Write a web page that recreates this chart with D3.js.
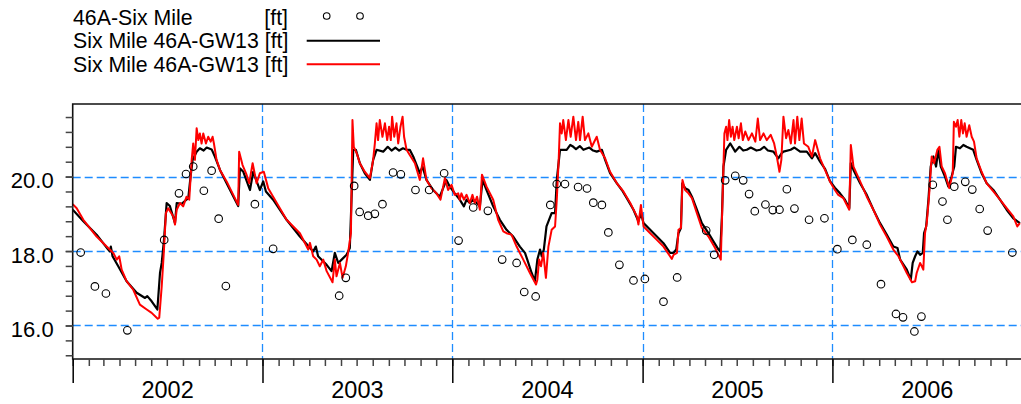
<!DOCTYPE html>
<html>
<head>
<meta charset="utf-8">
<script src="https://cdn.jsdelivr.net/npm/d3@7"></script>
<style>
  html, body { margin: 0; padding: 0; background: #fff; }
  svg { display: block; font-family: "Liberation Sans", Arial, Helvetica, sans-serif; }
</style>
</head>
<body>
<svg id="chart" width="1021" height="404"></svg>
<script>
// Water levels at 46A-Six Mile, 2002-2006 (time as decimal year, level in ft)

// Observed levels, 46A-Six Mile [ft]
const observed = [
  [2002.042, 17.96], [2002.117, 17.05], [2002.175, 16.86], [2002.288, 15.87],
  [2002.482, 18.30], [2002.560, 19.55], [2002.597, 20.07], [2002.635, 20.27],
  [2002.691, 19.62], [2002.732, 20.16], [2002.769, 18.87], [2002.807, 17.06],
  [2002.960, 19.26], [2003.056, 18.06], [2003.404, 16.80], [2003.439, 17.28],
  [2003.483, 19.75], [2003.512, 19.05], [2003.557, 18.95], [2003.592, 19.00],
  [2003.632, 19.26], [2003.688, 20.11], [2003.729, 20.06], [2003.806, 19.64],
  [2003.878, 19.64], [2003.957, 20.09], [2004.033, 18.28], [2004.110, 19.17],
  [2004.187, 19.08], [2004.262, 17.77], [2004.338, 17.68], [2004.378, 16.90],
  [2004.438, 16.78], [2004.515, 19.24], [2004.549, 19.80], [2004.592, 19.80],
  [2004.661, 19.72], [2004.708, 19.68], [2004.741, 19.30], [2004.786, 19.24],
  [2004.820, 18.50], [2004.878, 17.63], [2004.952, 17.21], [2005.012, 17.25],
  [2005.110, 16.64], [2005.182, 17.29], [2005.335, 18.55], [2005.377, 17.90],
  [2005.435, 19.90], [2005.488, 20.02], [2005.530, 19.90], [2005.561, 19.53],
  [2005.591, 19.07], [2005.647, 19.25], [2005.686, 19.10], [2005.721, 19.11],
  [2005.760, 19.66], [2005.800, 19.14], [2005.877, 18.84], [2005.958, 18.88],
  [2006.026, 18.05], [2006.105, 18.30], [2006.181, 18.17], [2006.256, 17.11],
  [2006.335, 16.31], [2006.372, 16.22], [2006.432, 15.84], [2006.469, 16.24],
  [2006.529, 19.78], [2006.580, 19.33], [2006.606, 18.84], [2006.642, 19.73],
  [2006.700, 19.86], [2006.737, 19.65], [2006.776, 19.13], [2006.818, 18.55],
  [2006.948, 17.96]
];

// Six Mile 46A-GW13 [ft], black trace
const gw13Black = [
  [2002.000, 19.11], [2002.056, 18.80], [2002.126, 18.44], [2002.187, 18.04],
  [2002.196, 17.99], [2002.201, 18.12], [2002.210, 17.86], [2002.240, 17.59],
  [2002.284, 17.19], [2002.337, 16.88], [2002.381, 16.74], [2002.393, 16.79],
  [2002.416, 16.65], [2002.446, 16.43], [2002.460, 17.41], [2002.469, 17.68],
  [2002.481, 18.30], [2002.495, 19.29], [2002.512, 19.21], [2002.539, 18.75],
  [2002.548, 19.29], [2002.574, 19.27], [2002.609, 19.42], [2002.621, 20.00],
  [2002.632, 20.45], [2002.653, 20.67], [2002.670, 20.76], [2002.690, 20.70],
  [2002.706, 20.78], [2002.732, 20.73], [2002.749, 20.54], [2002.776, 20.18],
  [2002.811, 19.82], [2002.872, 19.21], [2002.881, 20.22], [2002.899, 20.13],
  [2002.934, 19.64], [2002.951, 20.13], [2002.986, 19.64], [2003.004, 19.87],
  [2003.018, 19.60], [2003.056, 19.38], [2003.127, 18.84], [2003.197, 18.39],
  [2003.267, 17.99], [2003.281, 18.12], [2003.293, 17.86], [2003.338, 17.63],
  [2003.364, 17.46], [2003.381, 17.95], [2003.399, 17.68], [2003.417, 17.77],
  [2003.443, 17.90], [2003.460, 18.08], [2003.469, 19.38], [2003.478, 20.72],
  [2003.492, 20.72], [2003.513, 20.36], [2003.539, 20.09], [2003.566, 19.91],
  [2003.583, 20.45], [2003.601, 20.72], [2003.636, 20.67], [2003.660, 20.80],
  [2003.680, 20.70], [2003.700, 20.78], [2003.720, 20.70], [2003.740, 20.76],
  [2003.759, 20.72], [2003.776, 20.72], [2003.794, 20.54], [2003.829, 20.09],
  [2003.843, 20.27], [2003.864, 19.91], [2003.899, 19.64], [2003.934, 19.46],
  [2003.955, 19.73], [2003.969, 19.91], [2003.987, 19.73], [2004.013, 19.55],
  [2004.039, 19.38], [2004.061, 19.20], [2004.075, 19.38], [2004.092, 19.29],
  [2004.110, 19.38], [2004.128, 19.29], [2004.145, 19.20], [2004.159, 19.91],
  [2004.180, 19.64], [2004.215, 19.20], [2004.250, 18.84], [2004.285, 18.57],
  [2004.320, 18.39], [2004.355, 18.12], [2004.382, 17.95], [2004.394, 17.77],
  [2004.417, 17.41], [2004.434, 17.19], [2004.447, 17.77], [2004.461, 18.04],
  [2004.470, 17.86], [2004.481, 18.04], [2004.495, 18.66], [2004.522, 19.02],
  [2004.540, 19.02], [2004.549, 19.91], [2004.566, 20.72], [2004.601, 20.72],
  [2004.620, 20.85], [2004.636, 20.80], [2004.650, 20.74], [2004.670, 20.82],
  [2004.689, 20.72], [2004.720, 20.78], [2004.740, 20.70], [2004.759, 20.67],
  [2004.786, 20.72], [2004.803, 20.45], [2004.829, 20.09], [2004.865, 19.82],
  [2004.891, 19.64], [2004.917, 19.42], [2004.952, 19.11], [2004.978, 18.80],
  [2004.991, 19.02], [2005.005, 18.75], [2005.040, 18.57], [2005.075, 18.39],
  [2005.110, 18.21], [2005.145, 17.95], [2005.163, 17.95], [2005.177, 18.04],
  [2005.189, 18.48], [2005.202, 18.62], [2005.209, 19.82], [2005.224, 19.69],
  [2005.242, 19.64], [2005.260, 19.46], [2005.286, 19.11], [2005.312, 18.75],
  [2005.347, 18.48], [2005.373, 18.26], [2005.400, 18.04], [2005.409, 17.99],
  [2005.418, 18.93], [2005.426, 20.27], [2005.440, 20.72], [2005.462, 20.89],
  [2005.488, 20.67], [2005.510, 20.80], [2005.530, 20.70], [2005.549, 20.72],
  [2005.570, 20.78], [2005.600, 20.70], [2005.619, 20.72], [2005.640, 20.80],
  [2005.660, 20.70], [2005.689, 20.67], [2005.715, 20.49], [2005.733, 20.63],
  [2005.742, 20.67], [2005.780, 20.72], [2005.800, 20.78], [2005.830, 20.67],
  [2005.865, 20.67], [2005.892, 20.49], [2005.909, 20.63], [2005.935, 20.40],
  [2005.962, 20.20], [2005.987, 19.88], [2006.013, 19.70], [2006.040, 19.55],
  [2006.066, 19.38], [2006.089, 19.15], [2006.097, 20.36], [2006.111, 20.18],
  [2006.146, 19.82], [2006.181, 19.51], [2006.216, 19.11], [2006.251, 18.75],
  [2006.286, 18.44], [2006.321, 18.12], [2006.343, 18.08], [2006.357, 17.77],
  [2006.392, 17.50], [2006.413, 17.23], [2006.423, 17.68], [2006.436, 17.86],
  [2006.448, 17.99], [2006.462, 17.90], [2006.476, 17.95], [2006.483, 18.48],
  [2006.494, 18.66], [2006.506, 19.38], [2006.518, 20.27], [2006.532, 20.54],
  [2006.546, 20.27], [2006.558, 20.72], [2006.571, 20.27], [2006.593, 20.00],
  [2006.611, 19.73], [2006.628, 20.00], [2006.642, 20.27], [2006.651, 20.80],
  [2006.672, 20.76], [2006.690, 20.85], [2006.707, 20.80], [2006.742, 20.72],
  [2006.760, 20.45], [2006.786, 20.09], [2006.813, 19.82], [2006.848, 19.64],
  [2006.883, 19.38], [2006.918, 19.11], [2006.953, 18.88], [2006.988, 18.75]
];

// Six Mile 46A-GW13 [ft], red trace
const gw13Red = [
  [2002.000, 19.26], [2002.021, 19.15], [2002.056, 18.84], [2002.126, 18.39],
  [2002.179, 18.12], [2002.214, 17.95], [2002.232, 17.77], [2002.245, 17.86],
  [2002.258, 17.50], [2002.284, 17.19], [2002.319, 16.96], [2002.354, 16.56],
  [2002.390, 16.43], [2002.416, 16.34], [2002.448, 16.18], [2002.456, 16.21],
  [2002.469, 17.05], [2002.481, 18.04], [2002.491, 19.02], [2002.503, 19.15],
  [2002.530, 18.93], [2002.539, 18.71], [2002.548, 19.11], [2002.565, 19.29],
  [2002.582, 19.20], [2002.600, 19.46], [2002.614, 19.38], [2002.627, 20.45],
  [2002.635, 20.89], [2002.644, 20.45], [2002.653, 21.30], [2002.662, 20.98],
  [2002.670, 21.16], [2002.679, 20.89], [2002.688, 21.16], [2002.702, 20.89],
  [2002.714, 21.07], [2002.727, 20.94], [2002.737, 21.07], [2002.744, 20.89],
  [2002.758, 20.45], [2002.776, 20.18], [2002.811, 19.87], [2002.872, 19.24],
  [2002.877, 20.67], [2002.895, 20.31], [2002.916, 20.05], [2002.930, 19.82],
  [2002.948, 20.36], [2002.969, 19.82], [2002.986, 20.09], [2003.007, 20.13],
  [2003.030, 19.69], [2003.056, 19.46], [2003.127, 18.84], [2003.197, 18.48],
  [2003.241, 18.04], [2003.250, 18.22], [2003.267, 17.86], [2003.285, 17.77],
  [2003.302, 17.59], [2003.320, 17.77], [2003.338, 17.46], [2003.369, 17.16],
  [2003.381, 17.77], [2003.390, 17.32], [2003.408, 17.68], [2003.422, 17.28],
  [2003.439, 17.59], [2003.451, 17.95], [2003.466, 18.48], [2003.474, 21.52],
  [2003.481, 20.80], [2003.496, 20.63], [2003.513, 20.36], [2003.539, 20.13],
  [2003.566, 19.96], [2003.583, 20.45], [2003.592, 20.89], [2003.601, 21.43],
  [2003.609, 20.98], [2003.618, 21.52], [2003.632, 21.07], [2003.645, 21.43],
  [2003.657, 20.98], [2003.667, 21.34], [2003.676, 20.98], [2003.683, 21.61],
  [2003.694, 21.07], [2003.706, 21.43], [2003.715, 20.89], [2003.727, 21.34],
  [2003.738, 21.61], [2003.746, 21.07], [2003.759, 20.72], [2003.776, 20.58],
  [2003.803, 20.36], [2003.829, 19.91], [2003.846, 20.49], [2003.864, 19.91],
  [2003.890, 19.69], [2003.917, 19.55], [2003.938, 19.38], [2003.961, 19.96],
  [2003.978, 19.64], [2003.996, 19.78], [2004.013, 19.51], [2004.031, 19.55],
  [2004.039, 19.38], [2004.048, 19.55], [2004.061, 19.38], [2004.075, 19.51],
  [2004.092, 19.29], [2004.106, 19.51], [2004.118, 19.29], [2004.130, 19.46],
  [2004.145, 19.11], [2004.156, 20.05], [2004.180, 19.73], [2004.215, 19.38],
  [2004.241, 18.84], [2004.268, 18.53], [2004.285, 18.48], [2004.311, 18.44],
  [2004.338, 18.12], [2004.373, 17.77], [2004.408, 17.41], [2004.440, 17.10],
  [2004.447, 17.23], [2004.456, 17.77], [2004.466, 17.59], [2004.478, 17.95],
  [2004.492, 17.28], [2004.505, 18.12], [2004.522, 18.57], [2004.540, 18.66],
  [2004.549, 19.38], [2004.559, 20.45], [2004.566, 21.43], [2004.575, 21.16],
  [2004.583, 21.52], [2004.597, 20.98], [2004.610, 21.52], [2004.622, 21.07],
  [2004.636, 21.61], [2004.650, 20.98], [2004.662, 21.47], [2004.671, 20.98],
  [2004.685, 21.61], [2004.697, 20.98], [2004.715, 21.16], [2004.733, 20.80],
  [2004.759, 21.07], [2004.776, 20.72], [2004.803, 20.49], [2004.829, 20.13],
  [2004.865, 19.82], [2004.899, 19.60], [2004.935, 19.29], [2004.970, 18.93],
  [2004.978, 18.71], [2004.991, 19.24], [2005.005, 18.66], [2005.040, 18.48],
  [2005.075, 18.30], [2005.110, 18.12], [2005.154, 17.79], [2005.163, 17.90],
  [2005.181, 17.95], [2005.189, 18.57], [2005.202, 18.62], [2005.210, 19.91],
  [2005.224, 19.64], [2005.242, 19.55], [2005.260, 19.42], [2005.286, 19.02],
  [2005.312, 18.62], [2005.347, 18.39], [2005.382, 18.08], [2005.412, 17.77],
  [2005.421, 19.38], [2005.431, 21.16], [2005.440, 21.34], [2005.447, 20.98],
  [2005.456, 21.52], [2005.465, 21.07], [2005.474, 21.34], [2005.483, 20.98],
  [2005.497, 21.34], [2005.506, 21.03], [2005.518, 21.43], [2005.528, 20.98],
  [2005.541, 21.21], [2005.558, 20.98], [2005.576, 21.16], [2005.594, 20.94],
  [2005.607, 21.56], [2005.619, 20.98], [2005.637, 21.16], [2005.654, 20.98],
  [2005.675, 21.12], [2005.693, 20.89], [2005.707, 20.54], [2005.721, 20.13],
  [2005.731, 20.45], [2005.742, 21.61], [2005.756, 21.03], [2005.768, 21.25],
  [2005.781, 20.89], [2005.795, 21.52], [2005.803, 20.89], [2005.815, 21.61],
  [2005.826, 20.98], [2005.838, 21.56], [2005.850, 20.89], [2005.873, 20.80],
  [2005.892, 20.54], [2005.909, 20.98], [2005.935, 20.49], [2005.961, 20.18],
  [2005.987, 19.87], [2006.013, 19.64], [2006.031, 19.51], [2006.058, 19.42],
  [2006.089, 19.11], [2006.097, 20.85], [2006.111, 20.27], [2006.146, 19.87],
  [2006.181, 19.46], [2006.216, 19.11], [2006.251, 18.71], [2006.286, 18.39],
  [2006.321, 18.04], [2006.348, 17.86], [2006.366, 17.68], [2006.392, 17.41],
  [2006.419, 17.16], [2006.436, 17.19], [2006.444, 17.41], [2006.462, 17.68],
  [2006.471, 17.59], [2006.479, 17.50], [2006.488, 18.48], [2006.497, 18.75],
  [2006.509, 19.46], [2006.523, 20.54], [2006.536, 20.36], [2006.553, 20.72],
  [2006.564, 20.80], [2006.576, 20.27], [2006.593, 20.09], [2006.616, 19.69],
  [2006.634, 20.09], [2006.640, 21.47], [2006.651, 21.34], [2006.660, 21.52],
  [2006.669, 21.07], [2006.679, 21.52], [2006.688, 21.16], [2006.697, 21.43],
  [2006.707, 21.07], [2006.721, 21.38], [2006.734, 21.07], [2006.746, 20.94],
  [2006.760, 20.49], [2006.786, 20.13], [2006.813, 19.82], [2006.848, 19.60],
  [2006.883, 19.38], [2006.918, 19.15], [2006.953, 18.93], [2006.974, 18.66],
  [2006.988, 18.75]
];

// Axis labelling
const years = [2002, 2003, 2004, 2005, 2006];
const yLabelTicks = [16, 18, 20];
const yMinorTicks = [15.2, 15.6, 16.0, 16.4, 16.8, 17.2, 17.6, 18.0, 18.4, 18.8,
                     19.2, 19.6, 20.0, 20.4, 20.8, 21.2, 21.6];
const legendLabels = ["46A-Six Mile", "Six Mile 46A-GW13 [ft]", "Six Mile 46A-GW13 [ft]"];

// decimal year -> Date (UTC)
function toDate(t) {
  const y = Math.floor(t);
  const a = Date.UTC(y, 0, 1), b = Date.UTC(y + 1, 0, 1);
  return new Date(a + (t - y) * (b - a));
}

const svg = d3.select("#chart");
const plot = { left: 72.7, right: 1022.2, top: 104, bottom: 359 };

const x = d3.scaleUtc()
  .domain([new Date(Date.UTC(2002, 0, 1)), new Date(Date.UTC(2007, 0, 1))])
  .range([plot.left, plot.right]);
const y = d3.scaleLinear().domain([15.1, 21.95]).range([plot.bottom, plot.top]);

const gridColor = "#1e8cff";
// snap hairlines to pixel centres so the dashes stay crisp
const snap = v => Math.round(v) + 0.5;

// horizontal dashed grid
svg.append("g").selectAll("line").data(yLabelTicks).join("line")
  .attr("x1", plot.left).attr("x2", plot.right)
  .attr("y1", d => snap(y(d))).attr("y2", d => snap(y(d)))
  .attr("stroke", gridColor).attr("stroke-width", 1.3)
  .attr("stroke-dasharray", "8,4");

// vertical dashed grid at year boundaries
svg.append("g").selectAll("line").data(years.slice(1)).join("line")
  .attr("x1", d => snap(x(new Date(Date.UTC(d, 0, 1)))))
  .attr("x2", d => snap(x(new Date(Date.UTC(d, 0, 1)))))
  .attr("y1", plot.top).attr("y2", plot.bottom)
  .attr("stroke", gridColor).attr("stroke-width", 1.3)
  .attr("stroke-dasharray", "8,4");

// clip series to the plot rectangle
svg.append("clipPath").attr("id", "plotClip").append("rect")
  .attr("x", plot.left).attr("y", plot.top)
  .attr("width", plot.right - plot.left).attr("height", plot.bottom - plot.top);

const line = d3.line().x(d => x(toDate(d[0]))).y(d => y(d[1]));
const series = svg.append("g").attr("clip-path", "url(#plotClip)");

series.append("path").datum(gw13Black)
  .attr("d", line).attr("fill", "none")
  .attr("stroke", "#000").attr("stroke-width", 2.2).attr("stroke-linejoin", "round");

series.append("path").datum(gw13Red)
  .attr("d", line).attr("fill", "none")
  .attr("stroke", "#ff0000").attr("stroke-width", 2).attr("stroke-linejoin", "round");

series.append("g").selectAll("circle").data(observed).join("circle")
  .attr("cx", d => x(toDate(d[0]))).attr("cy", d => y(d[1]))
  .attr("r", 3.8).attr("fill", "none")
  .attr("stroke", "#000").attr("stroke-width", 1.1);

// frame: top and left border, bottom axis line
svg.append("path")
  .attr("d", `M${plot.right},${plot.top}H${plot.left}V${plot.bottom}H${plot.right}`)
  .attr("fill", "none").attr("stroke", "#111").attr("stroke-width", 1.6);

// left axis: minor ticks every 0.4 ft
const yMinor = svg.append("g").attr("transform", `translate(${plot.left},0)`)
  .call(d3.axisLeft(y).tickValues(yMinorTicks).tickSize(7).tickFormat(""));
yMinor.select(".domain").remove();
yMinor.selectAll(".tick line").attr("stroke", "#444").attr("stroke-width", 1.5);

// left axis labels
const yLab = svg.append("g").attr("transform", `translate(${plot.left},0)`)
  .call(d3.axisLeft(y).tickValues(yLabelTicks).tickSize(7).tickPadding(12)
        .tickFormat(d3.format(".1f")));
yLab.select(".domain").remove();
yLab.selectAll(".tick line").attr("stroke", "#444").attr("stroke-width", 1.5);
yLab.selectAll(".tick text")
  .attr("font-family", "'Liberation Sans', Arial, sans-serif")
  .attr("font-size", 22).attr("fill", "#000").attr("dy", "0.5em");

// bottom axis: monthly minor ticks
const xMinor = svg.append("g").attr("transform", `translate(0,${plot.bottom})`)
  .call(d3.axisBottom(x).ticks(d3.utcMonth.every(1)).tickSize(7).tickFormat(""));
xMinor.select(".domain").remove();
xMinor.selectAll(".tick line").attr("stroke", "#444").attr("stroke-width", 1.5);

// bottom axis: year boundaries, longer ticks
const xMajor = svg.append("g").attr("transform", `translate(0,${plot.bottom})`)
  .call(d3.axisBottom(x).tickValues(years.map(d => new Date(Date.UTC(d, 0, 1))))
        .tickSize(24).tickFormat(""));
xMajor.select(".domain").remove();
xMajor.selectAll(".tick line").attr("stroke", "#000").attr("stroke-width", 1.5);

// year labels centred in each year
svg.append("g").selectAll("text").data(years).join("text")
  .attr("x", d => (x(new Date(Date.UTC(d, 0, 1))) + x(new Date(Date.UTC(d + 1, 0, 1)))) / 2)
  .attr("y", 398)
  .attr("text-anchor", "middle")
  .attr("font-size", 23.5).attr("fill", "#000")
  .text(d => d);

// legend
const legend = svg.append("g").attr("font-size", 21.3).attr("fill", "#000");
const legendBase = [25, 48, 71.5];
legend.append("text").attr("x", 73).attr("y", legendBase[0]).text(legendLabels[0]);
legend.append("text").attr("x", 288).attr("y", legendBase[0]).attr("text-anchor", "end").text("[ft]");
legend.append("text").attr("x", 73).attr("y", legendBase[1]).text(legendLabels[1]);
legend.append("text").attr("x", 73).attr("y", legendBase[2]).text(legendLabels[2]);

legend.selectAll("circle").data([326.7, 360]).join("circle")
  .attr("cx", d => d).attr("cy", 16).attr("r", 3.3)
  .attr("fill", "none").attr("stroke", "#000").attr("stroke-width", 1.1);
legend.append("line").attr("x1", 306.7).attr("x2", 380).attr("y1", 40.7).attr("y2", 40.7)
  .attr("stroke", "#000").attr("stroke-width", 2);
legend.append("line").attr("x1", 306.7).attr("x2", 380).attr("y1", 64.3).attr("y2", 64.3)
  .attr("stroke", "#ff0000").attr("stroke-width", 2);
</script>
</body>
</html>
